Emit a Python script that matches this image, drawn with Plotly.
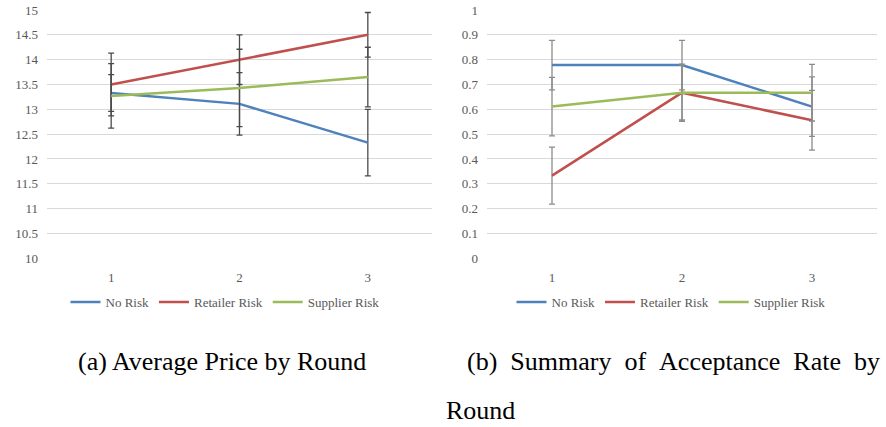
import plotly.graph_objects as go

rounds = [1, 2, 3]
series_names = ["No Risk", "Retailer Risk", "Supplier Risk"]
colors = ["#4F81BD", "#C0504D", "#9BBB59"]

# (a) Average Price by Round
price_no_risk = [13.33, 13.11, 12.33]
price_retailer = [13.50, 14.00, 14.50]
price_supplier = [13.27, 13.43, 13.65]
price_err_no_risk = [0.37, 0.63, 0.67]
price_err_retailer = [0.63, 0.50, 0.45]
price_err_supplier = [0.65, 0.78, 0.60]

# (b) Summary of Acceptance Rate by Round
acc_no_risk = [0.778, 0.778, 0.611]
acc_retailer = [0.333, 0.667, 0.556]
acc_supplier = [0.611, 0.667, 0.667]
acc_err_no_risk = [0.10, 0.10, 0.12]
acc_err_retailer = [0.115, 0.115, 0.12]
acc_err_supplier = [0.118, 0.11, 0.114]

price_ticks = [10, 10.5, 11, 11.5, 12, 12.5, 13, 13.5, 14, 14.5, 15]
acc_ticks = [0, 0.1, 0.2, 0.3, 0.4, 0.5, 0.6, 0.7, 0.8, 0.9, 1]

W, H = 886, 427
TXT = "#595959"
FONT = "Liberation Serif"

fig = go.Figure()

left_vals = [price_no_risk, price_retailer, price_supplier]
left_errs = [price_err_no_risk, price_err_retailer, price_err_supplier]
right_vals = [acc_no_risk, acc_retailer, acc_supplier]
right_errs = [acc_err_no_risk, acc_err_retailer, acc_err_supplier]

for name, col, v, e in zip(series_names, colors, left_vals, left_errs):
    fig.add_trace(go.Scatter(
        x=rounds, y=v, name=name, mode="lines",
        line=dict(color=col, width=2.5),
        error_y=dict(type="data", array=e, visible=True, color="#4a4a4a", thickness=1.3, width=3),
        xaxis="x", yaxis="y", legend="legend"))

for name, col, v, e in zip(series_names, colors, right_vals, right_errs):
    fig.add_trace(go.Scatter(
        x=rounds, y=v, name=name, mode="lines",
        line=dict(color=col, width=2.5),
        error_y=dict(type="data", array=e, visible=True, color="#8a8a8a", thickness=1.3, width=3),
        xaxis="x2", yaxis="y2", legend="legend2"))

ytop = 1 - 10 / H
ybot = 1 - 258.3 / H

axis_common = dict(showline=False, zeroline=False, ticks="", automargin=False,
                   tickfont=dict(family=FONT, size=13, color=TXT))

fig.update_layout(
    width=W, height=H,
    margin=dict(l=0, r=0, t=0, b=0, autoexpand=False),
    paper_bgcolor="white", plot_bgcolor="white",
    font=dict(family=FONT),
    xaxis=dict(domain=[47 / W, 432 / W], range=[0.5, 3.5], tickvals=rounds,
               ticktext=[str(r) for r in rounds], showgrid=False,
               anchor="y", ticklabelstandoff=10, **axis_common),
    yaxis=dict(domain=[ybot, ytop], range=[10, 15], tickvals=price_ticks,
               ticktext=[f"{t:g}" for t in price_ticks], showgrid=True,
               gridcolor="#D9D9D9", gridwidth=1, anchor="x",
               ticklabelstandoff=8, **axis_common),
    xaxis2=dict(domain=[487 / W, 877 / W], range=[0.5, 3.5], tickvals=rounds,
                ticktext=[str(r) for r in rounds], showgrid=False,
                anchor="y2", ticklabelstandoff=10, **axis_common),
    yaxis2=dict(domain=[ybot, ytop], range=[0, 1], tickvals=acc_ticks,
                ticktext=[f"{t:g}" for t in acc_ticks], showgrid=True,
                gridcolor="#D9D9D9", gridwidth=1, anchor="x2",
                ticklabelstandoff=8, **axis_common),
    legend=dict(orientation="h", x=225 / W, xanchor="center", y=1 - 302 / H,
                yanchor="middle", font=dict(family=FONT, size=13, color=TXT),
                bgcolor="rgba(0,0,0,0)", itemclick=False),
    legend2=dict(orientation="h", x=671 / W, xanchor="center", y=1 - 302 / H,
                 yanchor="middle", font=dict(family=FONT, size=13, color=TXT),
                 bgcolor="rgba(0,0,0,0)", itemclick=False),
    showlegend=True,
)

cap_font = dict(family=FONT, size=26, color="black")
fig.add_annotation(text="(a) Average Price by Round", xref="paper", yref="paper",
                   x=76 / W, y=1 - 361 / H, xanchor="left", yanchor="middle",
                   showarrow=False, font=cap_font)
fig.add_annotation(text="(b)\u00a0\u00a0Summary\u00a0\u00a0of\u00a0\u00a0Acceptance\u00a0\u00a0Rate\u00a0\u00a0by",
                   xref="paper", yref="paper",
                   x=465 / W, y=1 - 361 / H, xanchor="left", yanchor="middle",
                   showarrow=False, font=cap_font)
fig.add_annotation(text="Round", xref="paper", yref="paper",
                   x=445 / W, y=1 - 426 / H, xanchor="left", yanchor="bottom",
                   borderpad=0, showarrow=False, font=cap_font)

fig.write_html("out.html")
